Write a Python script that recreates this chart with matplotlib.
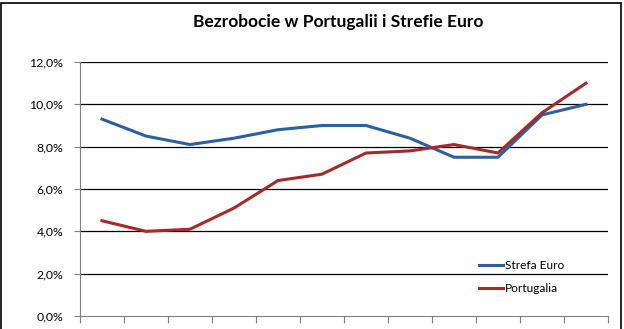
import matplotlib
matplotlib.use("Agg")
import matplotlib.pyplot as plt
import numpy as np
from matplotlib.patches import Rectangle

years = ["1999", "2000", "2001", "2002", "2003", "2004", "2005", "2006", "2007", "2008", "2009", "2010"]
strefa_euro = [9.3, 8.5, 8.1, 8.4, 8.8, 9.0, 9.0, 8.4, 7.5, 7.5, 9.5, 10.0]
portugalia = [4.5, 4.0, 4.1, 5.1, 6.4, 6.7, 7.7, 7.8, 8.1, 7.7, 9.6, 11.0]
yticks = [0, 2, 4, 6, 8, 10, 12]
ytick_labels = ["0,0%", "2,0%", "4,0%", "6,0%", "8,0%", "10,0%", "12,0%"]

plt.rcParams['font.family'] = ['Lato', 'DejaVu Sans']

fig = plt.figure(figsize=(6.24, 3.29), dpi=100)
fig.patches.append(Rectangle((0.0015, -0.05), 0.9935, 1.04, transform=fig.transFigure,
                             fill=False, edgecolor='black', linewidth=1.2))
ax = fig.add_axes([80/624, 13/329, 528/624, 254/329])

x = np.arange(len(years))
ax.plot(x, strefa_euro, color='#2e5f9e', linewidth=2.2, label='Strefa Euro')
ax.plot(x, portugalia, color='#a52a2a', linewidth=2.2, label='Portugalia')

ax.set_xlim(-0.5, len(years) - 0.5)
ax.set_ylim(0, 12)
ax.set_yticks(yticks)
ax.set_yticklabels(ytick_labels, fontsize=8.8)
ax.set_xticks(np.arange(-0.5, len(years), 1))
ax.set_xticklabels([])
ax.tick_params(axis='x', direction='out', length=5, color='#808080')
ax.tick_params(axis='y', length=4, color='#808080', pad=8)
for yv in yticks[1:]:
    ax.axhline(yv, color='black', linewidth=0.9, zorder=0)
for s in ['top', 'right']:
    ax.spines[s].set_visible(False)
for s in ['left', 'bottom']:
    ax.spines[s].set_color('#808080')

fig.text(338/624, 1 - 22/329, "Bezrobocie w Portugalii i Strefie Euro", ha='center', va='center',
         fontsize=12.5, fontweight='bold')

ax.legend(loc='lower right', bbox_to_anchor=(0.937, 0.045), frameon=False, fontsize=8.6,
          handlelength=2.0, handletextpad=0.15, labelspacing=1.0)

fig.savefig("out.png", dpi=100)
